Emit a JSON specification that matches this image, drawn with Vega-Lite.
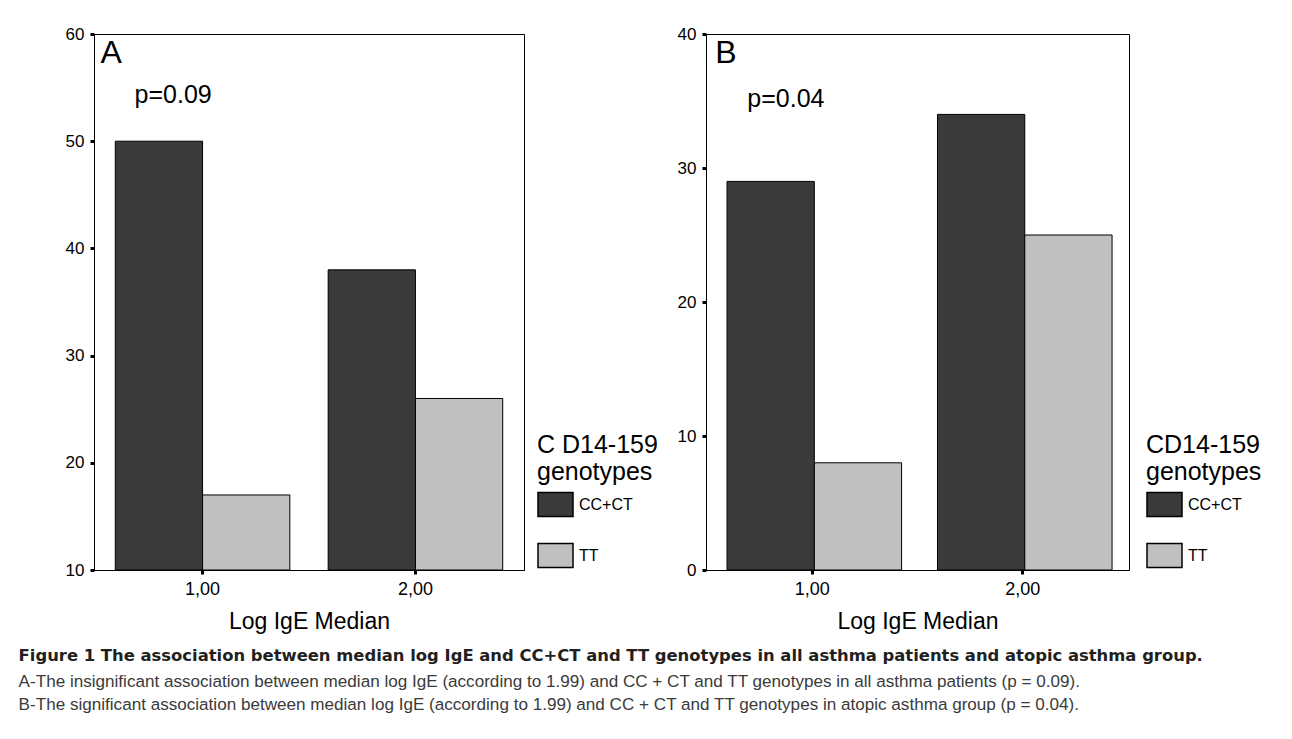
{
  "$schema": "https://vega.github.io/schema/vega-lite/v6.json",
  "padding": {"top": 24, "left": 18, "right": 10, "bottom": 10},
  "background": "#ffffff",
  "spacing": 17,
  "title": {
    "text": "Figure 1 The association between median log IgE and CC+CT and  TT genotypes in all asthma patients and atopic asthma group.",
    "subtitle": [
      "A-The insignificant association between median log IgE (according to 1.99) and CC + CT and TT genotypes in all asthma patients (p = 0.09).",
      "B-The significant association between median log IgE (according to 1.99) and CC + CT and TT genotypes in atopic asthma group (p = 0.04)."
    ],
    "orient": "bottom",
    "anchor": "start",
    "dx": -46,
    "offset": 14,
    "font": "DejaVu Sans",
    "fontSize": 16.4,
    "fontWeight": "bold",
    "color": "#231f20",
    "subtitleFont": "Liberation Sans",
    "subtitleFontSize": 17.1,
    "subtitleColor": "#3a3a3a",
    "subtitleLineHeight": 23,
    "subtitlePadding": 9
  },
  "resolve": {"scale": {"color": "independent"}, "legend": {"color": "independent"}},
  "hconcat": [
    {
      "width": 430,
      "height": 536,
      "layer": [
        {
          "data": {"values": [
            {"ige": "1,00", "genotype": "CC+CT", "count": 50},
            {"ige": "1,00", "genotype": "TT", "count": 17},
            {"ige": "2,00", "genotype": "CC+CT", "count": 38},
            {"ige": "2,00", "genotype": "TT", "count": 26}
          ]},
          "mark": {"type": "bar", "stroke": "#000", "strokeWidth": 1},
          "encoding": {
            "x": {"field": "ige", "type": "nominal", "sort": ["1,00", "2,00"],
                  "scale": {"paddingInner": 0.18, "paddingOuter": 0.1},
                  "axis": {"title": "Log IgE Median", "labelAngle": 0}},
            "xOffset": {"field": "genotype", "type": "nominal", "sort": ["CC+CT", "TT"]},
            "y": {"field": "count", "type": "quantitative",
                  "scale": {"domain": [10, 60], "nice": false, "zero": false},
                  "axis": {"title": null, "values": [10, 20, 30, 40, 50, 60]}},
            "y2": {"datum": 10},
            "color": {"field": "genotype", "type": "nominal",
                      "scale": {"domain": ["CC+CT", "TT"], "range": ["#3a3a3a", "#c0c0c0"]},
                      "legend": {"title": ["C D14-159", "genotypes"], "orient": "none", "legendX": 443, "legendY": 399}}
          }
        },
        {
          "data": {"values": [{"label": "A"}]},
          "mark": {"type": "text", "align": "left", "baseline": "alphabetic", "fontSize": 32, "dx": -102, "color": "#000", "font": "Liberation Sans"},
          "encoding": {"x": {"datum": "1,00"}, "y": {"datum": 57.3}, "text": {"field": "label"}}
        },
        {
          "data": {"values": [{"label": "p=0.09"}]},
          "mark": {"type": "text", "align": "left", "baseline": "alphabetic", "fontSize": 25, "dx": -68, "color": "#000", "font": "Liberation Sans"},
          "encoding": {"x": {"datum": "1,00"}, "y": {"datum": 53.56}, "text": {"field": "label"}}
        }
      ]
    },
    {
      "width": 423,
      "height": 536,
      "layer": [
        {
          "data": {"values": [
            {"ige": "1,00", "genotype": "CC+CT", "count": 29},
            {"ige": "1,00", "genotype": "TT", "count": 8},
            {"ige": "2,00", "genotype": "CC+CT", "count": 34},
            {"ige": "2,00", "genotype": "TT", "count": 25}
          ]},
          "mark": {"type": "bar", "stroke": "#000", "strokeWidth": 1},
          "encoding": {
            "x": {"field": "ige", "type": "nominal", "sort": ["1,00", "2,00"],
                  "scale": {"paddingInner": 0.19, "paddingOuter": 0.1},
                  "axis": {"title": "Log IgE Median", "labelAngle": 0}},
            "xOffset": {"field": "genotype", "type": "nominal", "sort": ["CC+CT", "TT"]},
            "y": {"field": "count", "type": "quantitative",
                  "scale": {"domain": [0, 40], "nice": false},
                  "axis": {"title": null, "values": [0, 10, 20, 30, 40]}},
            "color": {"field": "genotype", "type": "nominal",
                      "scale": {"domain": ["CC+CT", "TT"], "range": ["#3a3a3a", "#c0c0c0"]},
                      "legend": {"title": ["CD14-159", "genotypes"], "orient": "none", "legendX": 440, "legendY": 399}}
          }
        },
        {
          "data": {"values": [{"label": "B"}]},
          "mark": {"type": "text", "align": "left", "baseline": "alphabetic", "fontSize": 32, "dx": -97, "color": "#000", "font": "Liberation Sans"},
          "encoding": {"x": {"datum": "1,00"}, "y": {"datum": 37.84}, "text": {"field": "label"}}
        },
        {
          "data": {"values": [{"label": "p=0.04"}]},
          "mark": {"type": "text", "align": "left", "baseline": "alphabetic", "fontSize": 25, "dx": -65, "color": "#000", "font": "Liberation Sans"},
          "encoding": {"x": {"datum": "1,00"}, "y": {"datum": 34.55}, "text": {"field": "label"}}
        }
      ]
    }
  ],
  "config": {
    "font": "Liberation Sans",
    "view": {"stroke": "#000", "strokeWidth": 1},
    "axis": {
      "grid": false,
      "domainColor": "#000",
      "domainWidth": 1,
      "tickColor": "#000",
      "tickSize": 4,
      "tickWidth": 3,
      "labelColor": "#000",
      "labelFont": "Liberation Sans",
      "titleFont": "Liberation Sans",
      "titleColor": "#000",
      "titleFontWeight": "normal"
    },
    "axisY": {"labelFontSize": 17, "labelPadding": 6},
    "axisX": {"labelFontSize": 18, "labelPadding": 6, "titleFontSize": 23, "titlePadding": 12},
    "legend": {
      "direction": "vertical",
      "symbolType": "M-1,-0.69H1V0.69H-1Z",
      "symbolSize": 1225,
      "symbolStrokeColor": "#000",
      "symbolStrokeWidth": 1.5,
      "symbolOpacity": 1,
      "labelFontSize": 16,
      "labelColor": "#000",
      "labelFont": "Liberation Sans",
      "labelOffset": 5,
      "titleFont": "Liberation Sans",
      "titleFontSize": 25,
      "titleFontWeight": "normal",
      "titleColor": "#000",
      "titleLineHeight": 27,
      "titlePadding": 1,
      "rowPadding": 17
    }
  }
}
